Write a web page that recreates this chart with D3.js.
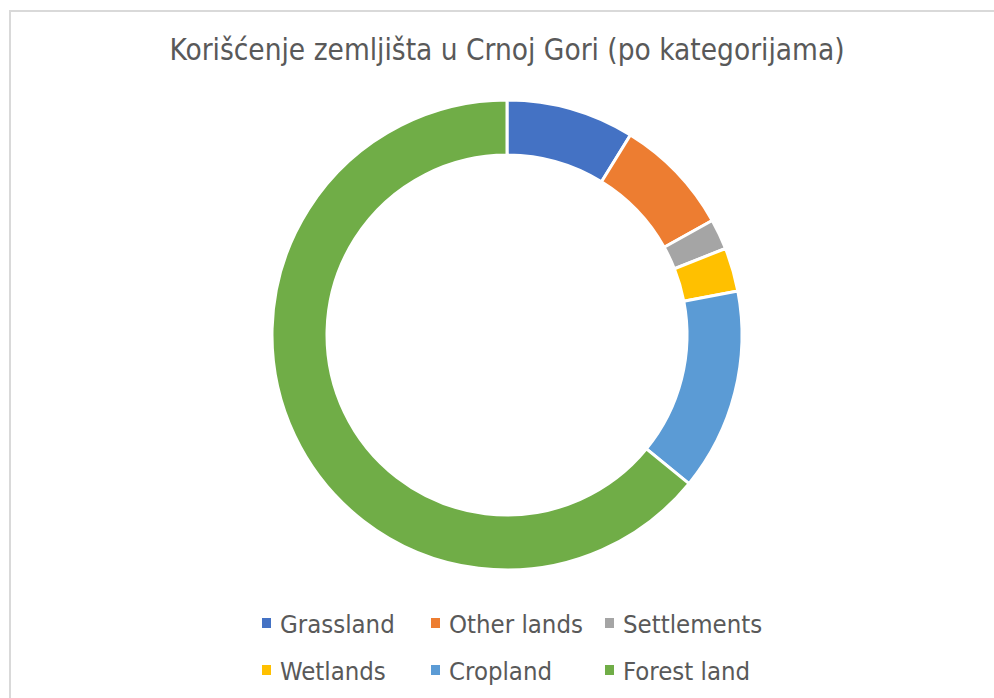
<!DOCTYPE html>
<html>
<head>
<meta charset="utf-8">
<script src="https://cdn.jsdelivr.net/npm/d3@7"></script>
<style>
  body { margin: 0; background: #fff; }
  svg { display: block; }
</style>
</head>
<body>
<svg width="994" height="698"></svg>
<script>
const svg = d3.select('svg');

const width = +svg.attr('width');
const height = +svg.attr('height');

// Data (percent shares)
const categories = ["Grassland", "Other lands", "Settlements", "Wetlands", "Cropland", "Forest land"];
const values = [8.8, 8.1, 2.1, 3.0, 13.9, 64.1];
const colors = ["#4472c4", "#ed7d31", "#a5a5a5", "#ffc000", "#5b9bd5", "#70ad47"];

const titleText = "Korišćenje zemljišta u Crnoj Gori (po kategorijama)";
const textColor = "#595959";
const fontFamily = "'DejaVu Sans Condensed', 'DejaVu Sans', sans-serif";

// chart frame
svg.append('rect')
    .attr('x', 10)
    .attr('y', 11)
    .attr('width', width + 20)
    .attr('height', height + 20)
    .attr('fill', 'none')
    .attr('stroke', '#d9d9d9')
    .attr('stroke-width', 2);

// title
svg.append('text')
    .attr('x', 507)
    .attr('y', 60)
    .attr('text-anchor', 'middle')
    .attr('fill', textColor)
    .style('font-family', fontFamily)
    .style('font-size', '29.5px')
    .text(titleText);

/******************
*** DONUT *********
*******************/
const cx = 507;
const cy = 335;
const outerR = 235;
const innerR = 180;

const pie = d3.pie()
    .sort(null)
    .value(d => d);

const arc = d3.arc()
    .innerRadius(innerR)
    .outerRadius(outerR);

const g = svg.append('g')
    .attr('transform', `translate(${cx},${cy})`);

g.selectAll('path')
    .data(pie(values))
    .enter().append('path')
    .attr('d', arc)
    .attr('fill', (d, i) => colors[i])
    .attr('stroke', '#fff')
    .attr('stroke-width', 3)
    .attr('stroke-linejoin', 'miter');

/******************
*** LEGEND ********
*******************/
const colX = [262, 431, 605];
const rowY = [633, 680];

const legend = svg.append('g');
const items = legend.selectAll('g')
    .data(categories)
    .enter().append('g')
    .attr('transform', (d, i) => `translate(${colX[i % 3]},${rowY[Math.floor(i / 3)]})`);

items.append('rect')
    .attr('x', 0)
    .attr('y', -15)
    .attr('width', 9)
    .attr('height', 10)
    .attr('fill', (d, i) => colors[i]);

items.append('text')
    .attr('x', 18)
    .attr('y', 0)
    .attr('fill', textColor)
    .style('font-family', fontFamily)
    .style('font-size', '25.5px')
    .text(d => d);
</script>
</body>
</html>
